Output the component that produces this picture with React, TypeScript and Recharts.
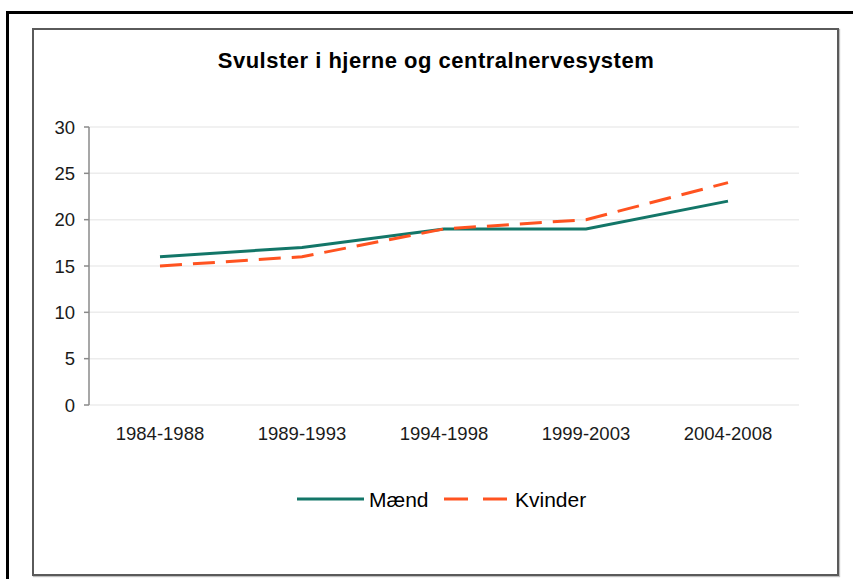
import React from "react";
import { LineChart, Line, XAxis, YAxis, CartesianGrid } from "recharts";

const title = "Svulster i hjerne og centralnervesystem";
const periods = ["1984-1988", "1989-1993", "1994-1998", "1999-2003", "2004-2008"];
const maend = [16, 17, 19, 19, 22];
const kvinder = [15, 16, 19, 20, 24];
const yTicks = [0, 5, 10, 15, 20, 25, 30];
const seriesNames = { maend: "Mænd", kvinder: "Kvinder" };

const TEAL = "#137668";
const ORANGE = "#FF5320";
const FONT = "'Liberation Sans', Arial, Helvetica, sans-serif";
const DASH = "22 11";

const data = periods.map((p, i) => ({
  period: p,
  x: i + 0.5,
  maend: maend[i],
  kvinder: kvinder[i],
}));

const edgeTicks = periods.map((_, i) => i).concat([periods.length]);
const centerTicks = periods.map((_, i) => i + 0.5);

export default function App() {
  return (
    <div
      style={{
        position: "absolute",
        left: 0,
        top: 0,
        width: 853,
        height: 579,
        overflow: "hidden",
        background: "#fff",
        fontFamily: FONT,
      }}
    >
      <div
        style={{
          position: "absolute",
          left: 6,
          top: 11,
          width: 900,
          height: 700,
          border: "3px solid #000",
        }}
      />
      <div
        style={{
          position: "absolute",
          left: 32,
          top: 28,
          width: 803,
          height: 544,
          border: "2px solid #5a5a5a",
          boxShadow: "1px 1px 1px rgba(0,0,0,0.25)",
        }}
      />
      <div style={{ position: "absolute", left: 0, top: 0 }}>
        <LineChart
          width={853}
          height={579}
          data={data}
          margin={{ top: 127, right: 54, bottom: 144, left: 29 }}
        >
          <CartesianGrid
            xAxisId="a"
            vertical={false}
            stroke="#ececec"
            strokeWidth={1.5}
          />
          <XAxis
            xAxisId="a"
            dataKey="x"
            type="number"
            domain={[0, periods.length]}
            ticks={edgeTicks}
            tick={false}
            height={0}
            tickSize={5}
            axisLine={{ stroke: "#8a8a8a", strokeWidth: 1.5 }}
            tickLine={{ stroke: "#8a8a8a", strokeWidth: 1.5 }}
          />
          <XAxis
            xAxisId="b"
            dataKey="x"
            type="number"
            domain={[0, periods.length]}
            ticks={centerTicks}
            tickFormatter={(v: number) => periods[Math.floor(v)]}
            height={30}
            axisLine={false}
            tickLine={false}
            tickSize={5}
            tickMargin={17}
            tick={{ fill: "#1a1a1a", fontSize: 18.5, fontFamily: FONT }}
            interval={0}
          />
          <YAxis
            domain={[0, 30]}
            ticks={yTicks}
            width={60}
            interval={0}
            tickSize={5}
            tickMargin={9}
            axisLine={{ stroke: "#8a8a8a", strokeWidth: 1.5 }}
            tickLine={{ stroke: "#8a8a8a", strokeWidth: 1.5 }}
            tick={{ fill: "#1a1a1a", fontSize: 18.5, fontFamily: FONT }}
          />
          <Line
            xAxisId="a"
            dataKey="maend"
            name={seriesNames.maend}
            stroke={TEAL}
            strokeWidth={3}
            dot={false}
            isAnimationActive={false}
          />
          <Line
            xAxisId="a"
            dataKey="kvinder"
            name={seriesNames.kvinder}
            stroke={ORANGE}
            strokeWidth={3}
            strokeDasharray={DASH}
            dot={false}
            isAnimationActive={false}
          />
        </LineChart>
      </div>
      <svg
        width={853}
        height={579}
        style={{ position: "absolute", left: 0, top: 0, pointerEvents: "none" }}
      >
        <text
          x={436}
          y={68}
          textAnchor="middle"
          fontFamily={FONT}
          fontWeight="bold"
          fontSize={22}
          letterSpacing={0.5}
          fill="#000"
        >
          {title}
        </text>
        <line x1={297} x2={364} y1={499} y2={499} stroke={TEAL} strokeWidth={3} />
        <text x={369} y={507} fontFamily={FONT} fontSize={21} fill="#000">
          {seriesNames.maend}
        </text>
        <line
          x1={444}
          x2={507}
          y1={499}
          y2={499}
          stroke={ORANGE}
          strokeWidth={3}
          strokeDasharray="24 15"
        />
        <text x={515} y={507} fontFamily={FONT} fontSize={21} fill="#000">
          {seriesNames.kvinder}
        </text>
      </svg>
    </div>
  );
}
